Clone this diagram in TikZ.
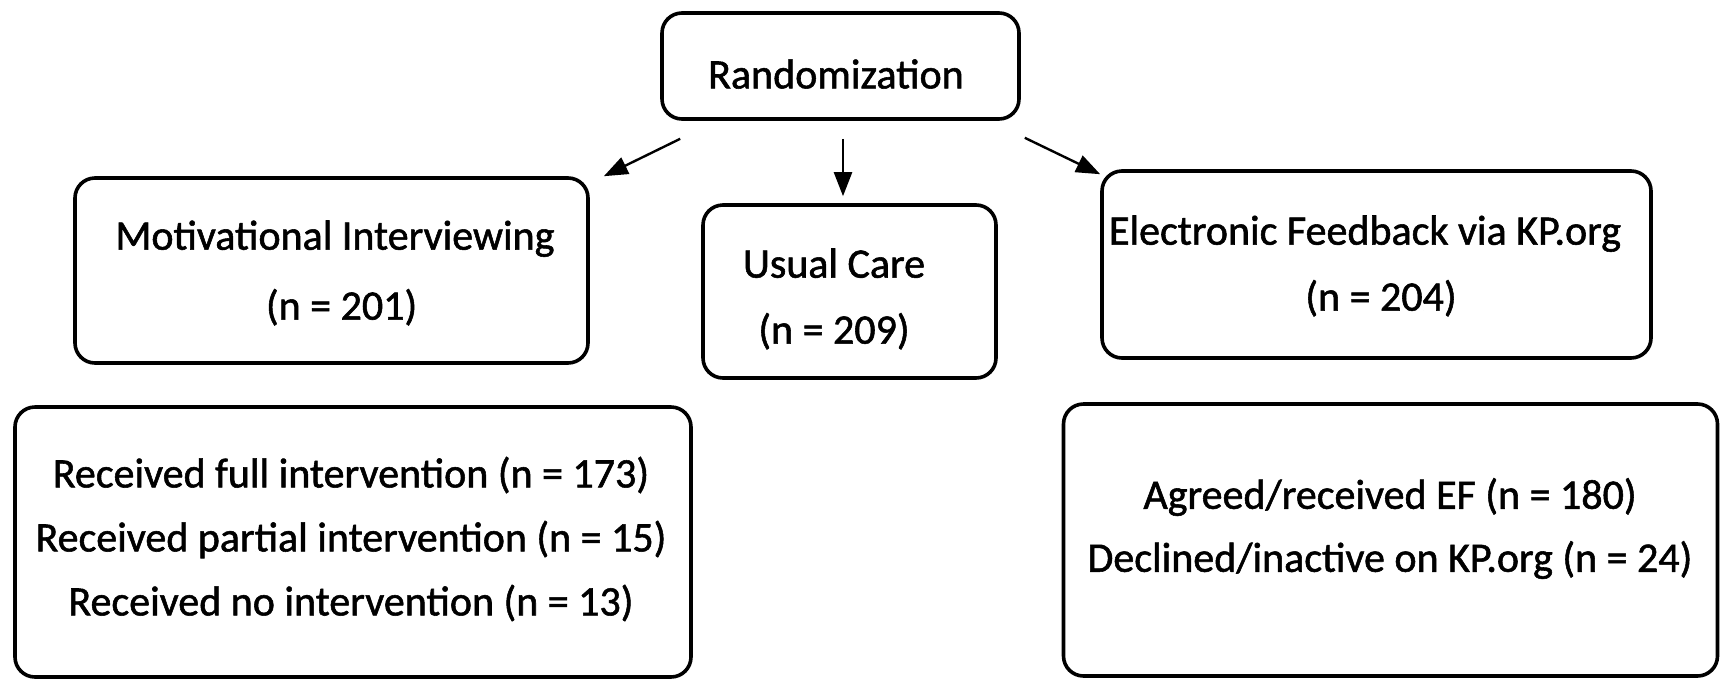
\documentclass[tikz,border=0pt]{standalone}
\usepackage{fontspec}
\setmainfont{Carlito}
\newfontfamily\heavyfont{Carlito}[FakeBold=1.3]
\usetikzlibrary{arrows.meta}
\tikzset{
  box/.style={draw=black, line width=1.8pt, rounded corners=10pt, inner sep=0pt, fill=white},
  txt/.style={align=center, inner sep=0pt, font=\heavyfont\fontsize{21}{33}\selectfont},
  arr/.style={line width=1.2pt, -{Triangle[length=12pt,width=9pt]}}
}
\begin{document}
\begin{tikzpicture}[x=0.5pt,y=-0.5pt]
\useasboundingbox (0,0) rectangle (1723,681);
% boxes
\node[box, minimum width=178.5pt, minimum height=53pt] (rand) at (840.5,66) {};
\node[box, minimum width=256.5pt, minimum height=92.5pt] (mi) at (331.5,270.5) {};
\node[box, minimum width=146.5pt, minimum height=86.5pt] (uc) at (849.5,291.5) {};
\node[box, minimum width=274.5pt, minimum height=93.5pt] (ef) at (1376.5,264.5) {};
\node[box, minimum width=338pt, minimum height=135pt] (mib) at (353,542) {};
\node[box, minimum width=327pt, minimum height=136pt] (efb) at (1390.5,540) {};
% texts
\node[txt] (randt) at (836,74) {Randomization};
\node[txt, font=\heavyfont\fontsize{21}{35}\selectfont] (mit) at (335,273) {Motivational Interviewing\\\hspace*{6.6pt}(n = 201)};
\node[txt] (uct) at (834,299) {Usual Care\\(n = 209)};
\node[txt] (eft) at (1365,266) {Electronic Feedback via KP.org\\\hspace*{16pt}(n = 204)};
\node[txt, font=\heavyfont\fontsize{21}{32}\selectfont] (mibt) at (351,539) {Received full intervention (n = 173)\\Received partial intervention (n = 15)\\Received no intervention (n = 13)};
\node[txt, font=\heavyfont\fontsize{21}{31.5}\selectfont] (efbt) at (1390,528.5) {Agreed/received EF (n = 180)\\Declined/inactive on KP.org (n = 24)};
% arrows
\draw[arr] ([shift={(20,18)}]rand.south west) -- ([shift={(14,0)}]mi.north east);
\draw[arr] ([shift={(2.5,18)}]rand.south) -- ([shift={(-6.5,-7)}]uc.north);
\draw[arr] ([shift={(4,17)}]rand.south east) -- ([shift={(0,5)}]ef.north west);
\end{tikzpicture}
\end{document}
